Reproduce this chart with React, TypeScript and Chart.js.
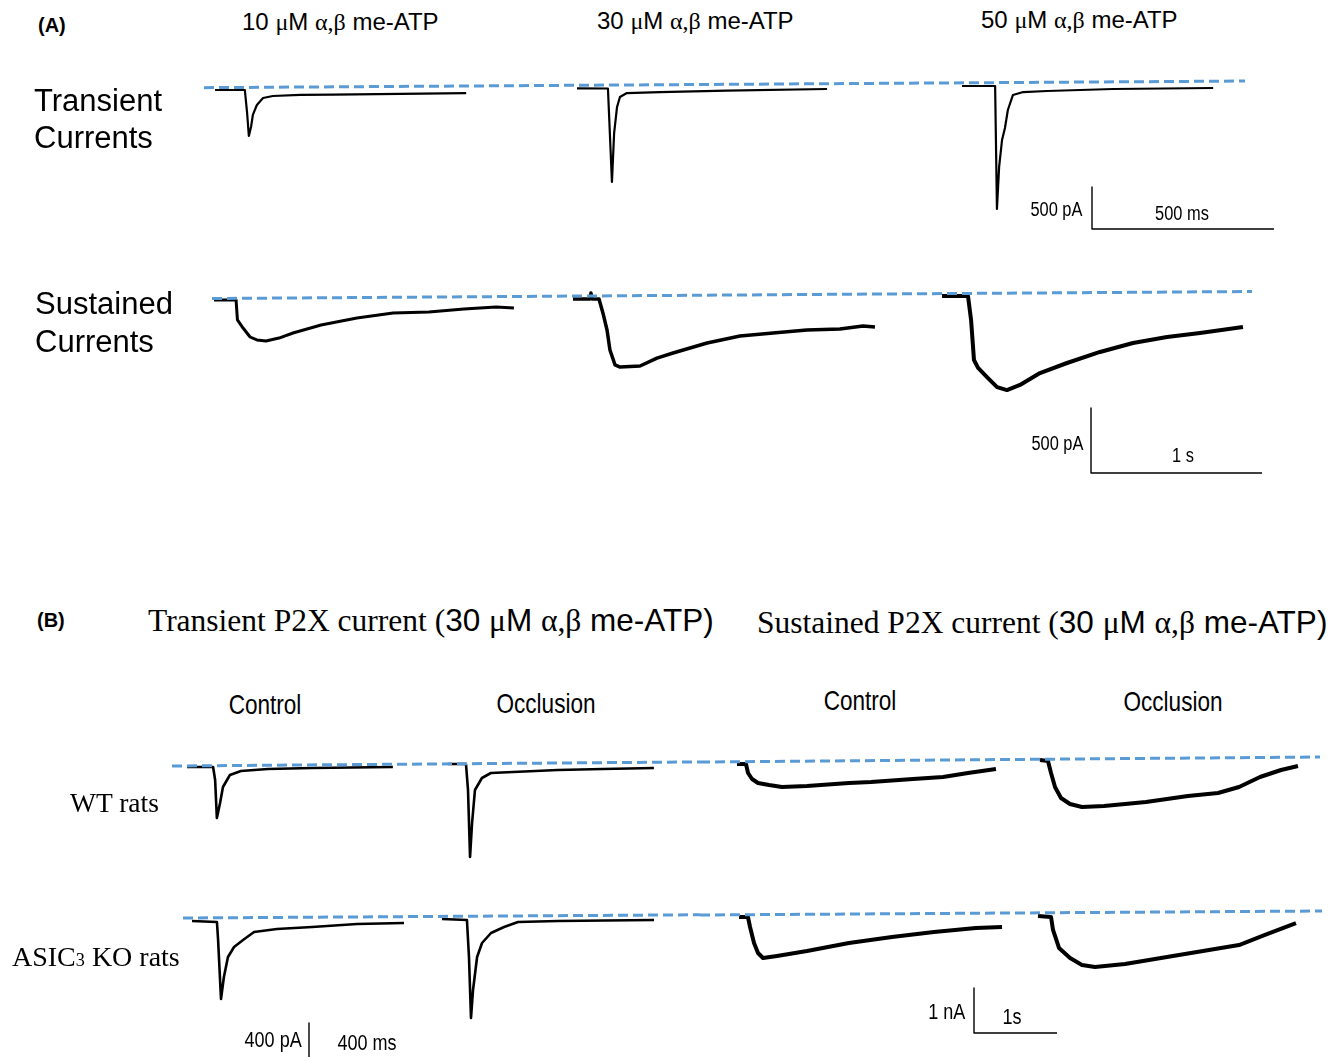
import React, { useEffect, useRef } from "react";
import { Chart, registerables } from "chart.js";
Chart.register(...registerables);

// ===================== DATA (time in ms, current in pA) =====================
// (A) Transient currents
const tA1_10 = [0, 82, 88, 93, 99, 104, 115, 132, 159, 234, 324, 508, 690];
const iA1_10 = [-24, -24, -286, -571, -464, -321, -202, -119, -95, -83, -80, -71, -60];
const tA1_30 = [0, 85, 96, 102, 110, 118, 137, 228, 412, 687];
const iA1_30 = [-4, -6, -1119, -536, -226, -107, -60, -48, -32, -12];
const tA1_50 = [0, 91, 96, 102, 110, 118, 126, 140, 168, 234, 415, 690];
const iA1_50 = [24, 24, -1440, -940, -619, -476, -262, -83, -48, -36, -12, 0];
const baseA1 = [4, 83];
const barA1 = [500, 500]; // 500 pA, 500 ms

// (A) Sustained currents
const tA2_10 = [0, 129, 137, 170, 211, 251, 304, 380, 462, 626, 836, 1047, 1257, 1462, 1649, 1754];
const iA2_10 = [-15, -15, -169, -231, -300, -323, -331, -308, -269, -208, -154, -115, -108, -85, -69, -77];
const tA2_30 = [0, 99, 105, 111, 152, 175, 199, 216, 246, 275, 392, 491, 585, 784, 977, 1170, 1368, 1561, 1696, 1766];
const iA2_30 = [-8, -8, 38, -8, -8, -115, -246, -400, -515, -531, -523, -462, -423, -346, -292, -269, -246, -238, -215, -223];
const tA2_50 = [0, 152, 170, 187, 211, 263, 322, 380, 456, 573, 731, 924, 1117, 1316, 1509, 1760];
const iA2_50 = [15, 15, -169, -477, -538, -608, -685, -708, -669, -577, -500, -415, -346, -300, -269, -223];
const baseA2 = [-4, 50];
const barA2 = [500, 1000]; // 500 pA, 1 s

// (B) Transient P2X current, WT and ASIC3 KO
const tWtTrCtl = [0, 90, 97, 103, 114, 124, 148, 186, 279, 431, 710];
const iWtTrCtl = [-10, -10, -140, -520, -370, -210, -90, -50, -30, -20, -10];
const tWtTrOcc = [0, 62, 69, 76, 83, 93, 117, 148, 224, 379, 534, 710];
const iWtTrOcc = [20, 20, -240, -910, -570, -240, -120, -70, -60, -40, -30, -20];
const tKoTrCtl = [0, 86, 90, 100, 110, 124, 145, 176, 214, 293, 414, 569, 731];
const iKoTrCtl = [-30, -40, -220, -810, -590, -390, -290, -220, -140, -110, -90, -60, -50];
const tKoTrOcc = [0, 86, 93, 100, 107, 121, 138, 169, 214, 262, 400, 731];
const iKoTrOcc = [-10, -20, -390, -1000, -720, -390, -250, -150, -90, -40, -30, -20];
const baseWtL = [0, 41];
const baseKoL = [0, 32];
const barBL = [400, 400]; // 400 pA, 400 ms

// (B) Sustained P2X current, WT and ASIC3 KO
const tWtSuCtl = [0, 108, 133, 181, 253, 386, 542, 843, 1349, 1614, 2120, 2482, 2783, 3120];
const iWtSuCtl = [-44, -44, -244, -378, -467, -511, -556, -533, -467, -444, -378, -333, -244, -156];
const tWtSuOcc = [0, 96, 133, 181, 253, 361, 506, 771, 1277, 1783, 2145, 2398, 2651, 2904, 3108];
const iWtSuOcc = [44, 22, -244, -556, -800, -933, -1000, -978, -889, -756, -689, -556, -333, -178, -89];
const tKoSuCtl = [0, 108, 133, 181, 229, 289, 458, 819, 1325, 1843, 2349, 2855, 3169];
const iKoSuCtl = [-44, -44, -267, -622, -844, -956, -911, -800, -622, -489, -378, -289, -267];
const tKoSuOcc = [0, 157, 181, 253, 386, 530, 687, 1048, 1554, 2060, 2422, 2735, 3108];
const iKoSuOcc = [-22, -44, -333, -733, -956, -1111, -1156, -1089, -933, -778, -667, -444, -178];
const baseWtR = [0, 111];
const baseKoR = [0, 89];
const barBR = [1000, 1000]; // 1 nA, 1 s

// ===================== LAYOUT =====================
type Trace = { t: number[]; i: number[]; x0: number; w: number };
type Panel = {
  left: number; top: number; width: number; height: number;
  pxPerMs: number; pxPerPA: number; yRef: number;
  baseX: number[]; baseI: number[];
  traces: Trace[];
  bar?: { x: number; y: number; v: number[] };
};

const PANELS: Panel[] = [
  {
    left: 0, top: 60, width: 1344, height: 190, pxPerMs: 0.364, pxPerPA: 0.084, yRef: 88,
    baseX: [204, 1245], baseI: baseA1,
    traces: [
      { t: tA1_10, i: iA1_10, x0: 215, w: 2.2 },
      { t: tA1_30, i: iA1_30, x0: 577, w: 2.2 },
      { t: tA1_50, i: iA1_50, x0: 962, w: 2.2 },
    ],
    bar: { x: 1092, y: 229, v: barA1 },
  },
  {
    left: 0, top: 270, width: 1344, height: 220, pxPerMs: 0.171, pxPerPA: 0.13, yRef: 298,
    baseX: [212, 1252], baseI: baseA2,
    traces: [
      { t: tA2_10, i: iA2_10, x0: 214, w: 3 },
      { t: tA2_30, i: iA2_30, x0: 573, w: 3.5 },
      { t: tA2_50, i: iA2_50, x0: 942, w: 4 },
    ],
    bar: { x: 1091, y: 473, v: barA2 },
  },
  {
    left: 0, top: 740, width: 700, height: 140, pxPerMs: 0.29, pxPerPA: 0.1, yRef: 766,
    baseX: [172, 700], baseI: baseWtL,
    traces: [
      { t: tWtTrCtl, i: iWtTrCtl, x0: 187, w: 2.6 },
      { t: tWtTrOcc, i: iWtTrOcc, x0: 448, w: 2.6 },
    ],
  },
  {
    left: 700, top: 740, width: 644, height: 140, pxPerMs: 0.083, pxPerPA: 0.045, yRef: 762,
    baseX: [700, 1320], baseI: baseWtR,
    traces: [
      { t: tWtSuCtl, i: iWtSuCtl, x0: 737, w: 4 },
      { t: tWtSuOcc, i: iWtSuOcc, x0: 1040, w: 4 },
    ],
  },
  {
    left: 0, top: 880, width: 700, height: 177, pxPerMs: 0.29, pxPerPA: 0.1, yRef: 918,
    baseX: [183, 700], baseI: baseKoL,
    traces: [
      { t: tKoTrCtl, i: iKoTrCtl, x0: 192, w: 2.6 },
      { t: tKoTrOcc, i: iKoTrOcc, x0: 442, w: 2.6 },
    ],
    bar: { x: 309, y: 1063, v: barBL },
  },
  {
    left: 700, top: 880, width: 644, height: 177, pxPerMs: 0.083, pxPerPA: 0.045, yRef: 915,
    baseX: [700, 1322], baseI: baseKoR,
    traces: [
      { t: tKoSuCtl, i: iKoSuCtl, x0: 739, w: 4 },
      { t: tKoSuOcc, i: iKoSuOcc, x0: 1038, w: 4 },
    ],
    bar: { x: 974, y: 1033, v: barBR },
  },
];

function TraceChart({ p }: { p: Panel }) {
  const ref = useRef<HTMLCanvasElement>(null);
  useEffect(() => {
    const rowT = (px: number) => px / p.pxPerMs;
    const rowI = (py: number) => (p.yRef - py) / p.pxPerPA;
    const datasets: any[] = [];
    datasets.push({
      data: p.baseX.map((x, k) => ({ x: rowT(x), y: p.baseI[k] })),
      borderColor: "#5b9bd5",
      borderWidth: 3,
      borderDash: [10, 5],
    });
    p.traces.forEach((tr) => {
      const off = rowT(tr.x0);
      datasets.push({
        data: tr.t.map((t, k) => ({ x: off + t, y: tr.i[k] })),
        borderColor: "#000000",
        borderWidth: tr.w,
      });
    });
    if (p.bar) {
      const cx = rowT(p.bar.x);
      const cy = rowI(p.bar.y);
      datasets.push({
        data: [
          { x: cx, y: cy + p.bar.v[0] },
          { x: cx, y: cy },
          { x: cx + p.bar.v[1], y: cy },
        ],
        borderColor: "#000000",
        borderWidth: 1.4,
      });
    }
    const chart = new Chart(ref.current as HTMLCanvasElement, {
      type: "line",
      data: { datasets },
      options: {
        animation: false,
        responsive: true,
        maintainAspectRatio: false,
        layout: { padding: 0 },
        plugins: { legend: { display: false }, tooltip: { enabled: false } },
        elements: {
          point: { radius: 0 },
          line: { tension: 0, borderJoinStyle: "round", fill: false },
        },
        scales: {
          x: { type: "linear", display: false, min: rowT(p.left), max: rowT(p.left + p.width) },
          y: { type: "linear", display: false, min: rowI(p.top + p.height), max: rowI(p.top) },
        },
      } as any,
    });
    return () => chart.destroy();
  }, []);
  return (
    <div style={{ position: "absolute", left: p.left, top: p.top, width: p.width, height: p.height }}>
      <canvas ref={ref} />
    </div>
  );
}

const SANS = "'Liberation Sans', Arial, sans-serif";
const SERIF = "'Liberation Serif', 'Times New Roman', serif";

type LabelProps = {
  x: number; y: number; align?: "left" | "center" | "right";
  size: number; family?: string; bold?: boolean; narrow?: boolean;
  children: React.ReactNode;
};

function Label({ x, y, align = "left", size, family = SANS, bold, narrow, children }: LabelProps) {
  const sx = narrow ? " scaleX(0.82)" : "";
  const style: React.CSSProperties = {
    position: "absolute",
    top: y,
    whiteSpace: "nowrap",
    fontFamily: family,
    fontSize: size,
    fontWeight: bold ? 700 : 400,
    color: "#000",
    lineHeight: 1,
    zIndex: 2,
  };
  if (align === "left") {
    style.left = x;
    style.transform = "translateY(-50%)" + sx;
    style.transformOrigin = "left center";
  } else if (align === "right") {
    style.right = 1344 - x;
    style.transform = "translateY(-50%)" + sx;
    style.transformOrigin = "right center";
  } else {
    style.left = x;
    style.transform = "translate(-50%, -50%)" + sx;
    style.transformOrigin = "center center";
  }
  return <div style={style}>{children}</div>;
}

const G = ({ children }: { children: React.ReactNode }) => (
  <span style={{ fontFamily: SERIF }}>{children}</span>
);

function Conc({ n }: { n: string }) {
  return (
    <>
      {n} <G>μ</G>M <G>α,β</G> me-ATP
    </>
  );
}

export default function App() {
  return (
    <div
      style={{
        position: "absolute",
        left: 0,
        top: 0,
        width: 1344,
        height: 1057,
        background: "#fff",
        overflow: "hidden",
      }}
    >
      {PANELS.map((p, k) => (
        <TraceChart key={k} p={p} />
      ))}

      {/* (A) */}
      <Label x={38} y={25} size={20} bold>(A)</Label>
      <Label x={242} y={22} size={24}><Conc n="10" /></Label>
      <Label x={597} y={21} size={24}><Conc n="30" /></Label>
      <Label x={981} y={20} size={24}><Conc n="50" /></Label>
      <Label x={34} y={100} size={31}>Transient</Label>
      <Label x={34} y={137} size={31}>Currents</Label>
      <Label x={35} y={303} size={31}>Sustained</Label>
      <Label x={35} y={341} size={31}>Currents</Label>
      <Label x={1082} y={209} align="right" size={20} narrow>500 pA</Label>
      <Label x={1182} y={213} align="center" size={20} narrow>500 ms</Label>
      <Label x={1083} y={443} align="right" size={20} narrow>500 pA</Label>
      <Label x={1183} y={455} align="center" size={20} narrow>1 s</Label>

      {/* (B) */}
      <Label x={37} y={620} size={20} bold>(B)</Label>
      <Label x={148} y={621} size={31.5} family={SERIF}>
        Transient P2X current (<span style={{ fontFamily: SANS }}><Conc n="30" />)</span>
      </Label>
      <Label x={757} y={623} size={31.5} family={SERIF}>
        Sustained P2X current (<span style={{ fontFamily: SANS }}><Conc n="30" />)</span>
      </Label>
      <Label x={265} y={705} align="center" size={27.5} narrow>Control</Label>
      <Label x={546} y={704} align="center" size={27.5} narrow>Occlusion</Label>
      <Label x={860} y={701} align="center" size={27.5} narrow>Control</Label>
      <Label x={1173} y={702} align="center" size={27.5} narrow>Occlusion</Label>
      <Label x={70} y={803} size={27.5} family={SERIF}>WT rats</Label>
      <Label x={12} y={957} size={28} family={SERIF}>
        ASIC<span style={{ fontSize: "0.65em" }}>3</span> KO rats
      </Label>
      <Label x={302} y={1040} align="right" size={22} narrow>400 pA</Label>
      <Label x={367} y={1043} align="center" size={22} narrow>400 ms</Label>
      <Label x={965} y={1012} align="right" size={22} narrow>1 nA</Label>
      <Label x={1012} y={1017} align="center" size={22} narrow>1s</Label>
    </div>
  );
}
